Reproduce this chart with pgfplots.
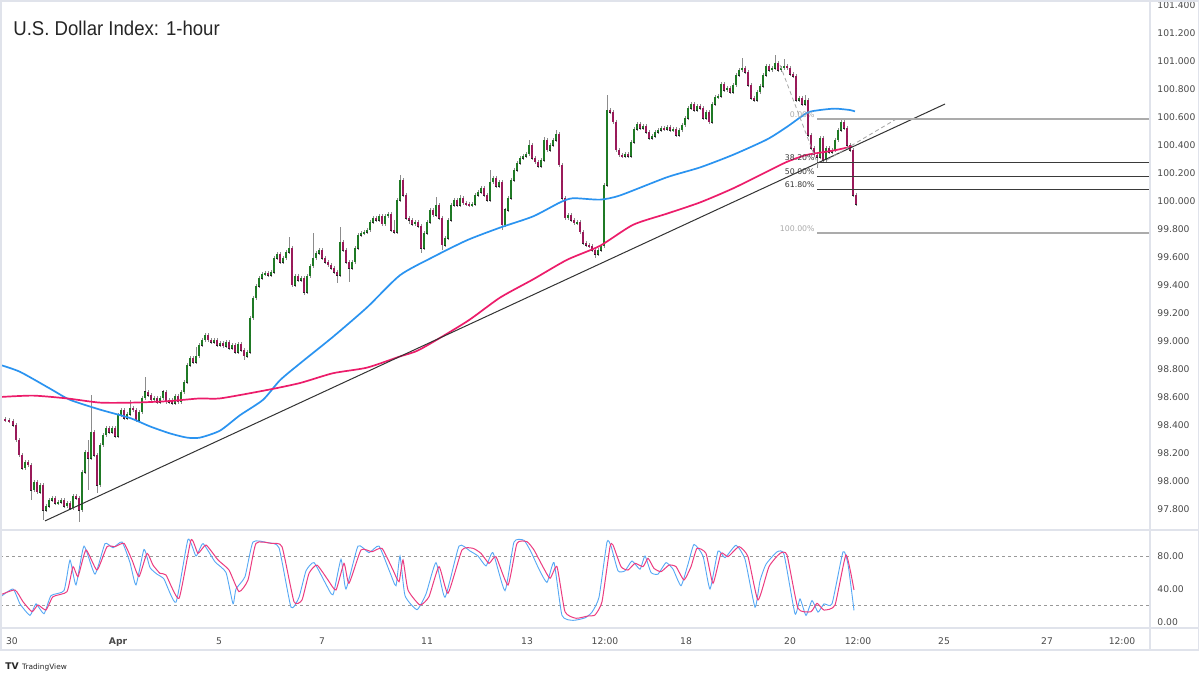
\documentclass[border=0pt]{standalone}
\usepackage{pgfplots}
\pgfplotsset{compat=1.18}
\usepackage{pgfplotstable}
\usepackage{fontspec}
\setmainfont{DejaVu Sans}
\newfontfamily\titlefont[FakeStretch=0.93]{Liberation Sans}
\newfontfamily\tickfont{DejaVu Sans}
\definecolor{upc}{HTML}{1F7A25}
\definecolor{dnc}{HTML}{9A1A5A}
\definecolor{wick}{HTML}{8C8C8C}
\definecolor{mablue}{HTML}{2A93F0}
\definecolor{mapink}{HTML}{EC1C6A}
\definecolor{stblue}{HTML}{55A8F5}
\definecolor{stpink}{HTML}{EC3C80}
\definecolor{framec}{HTML}{E0E3EB}
\definecolor{lbl}{HTML}{4A4A4A}
\definecolor{fibdark}{HTML}{3A3A3A}
\definecolor{fiblight}{HTML}{ABABAB}

\pgfplotstableread{
x o h l c
5 98.443 98.458 98.421 98.436
9 98.436 98.451 98.414 98.429
13 98.429 98.444 98.385 98.400
16 98.400 98.415 98.278 98.293
19 98.293 98.308 98.171 98.186
22 98.186 98.201 98.078 98.093
25 98.093 98.151 98.078 98.136
28 98.136 98.151 98.099 98.114
31 98.114 98.129 97.864 97.936
34 97.936 98.008 97.921 97.993
37 97.993 98.008 97.906 97.921
40 97.921 97.986 97.906 97.971
43 97.971 97.986 97.721 97.793
46 97.793 97.836 97.778 97.821
49 97.821 97.879 97.806 97.864
52 97.864 97.894 97.849 97.879
55 97.879 97.894 97.828 97.843
58 97.843 97.865 97.828 97.850
61 97.850 97.879 97.835 97.864
64 97.864 97.879 97.806 97.821
67 97.821 97.858 97.806 97.843
70 97.843 97.858 97.792 97.807
73 97.807 97.908 97.792 97.893
76 97.893 97.908 97.864 97.879
79 97.879 97.894 97.707 97.793
82 97.793 98.079 97.778 98.064
85 98.064 98.222 98.049 98.207
88 98.207 98.293 97.936 98.164
91 98.164 98.614 98.149 98.350
94 98.350 98.365 98.171 98.186
97 98.186 98.201 97.914 97.971
100 97.971 98.272 97.956 98.257
103 98.257 98.344 98.242 98.329
106 98.329 98.394 98.314 98.379
109 98.379 98.394 98.335 98.350
112 98.350 98.394 98.335 98.379
115 98.379 98.394 98.306 98.321
118 98.321 98.486 98.306 98.471
121 98.471 98.522 98.456 98.507
124 98.507 98.522 98.435 98.450
127 98.450 98.494 98.435 98.479
130 98.479 98.579 98.464 98.521
133 98.521 98.536 98.492 98.507
136 98.507 98.522 98.421 98.436
139 98.436 98.508 98.421 98.493
142 98.493 98.608 98.478 98.593
145 98.593 98.743 98.578 98.636
148 98.636 98.651 98.599 98.614
151 98.614 98.629 98.564 98.579
154 98.579 98.608 98.564 98.593
157 98.593 98.608 98.549 98.564
160 98.564 98.608 98.549 98.593
163 98.593 98.651 98.578 98.636
166 98.636 98.651 98.549 98.564
169 98.564 98.594 98.549 98.579
172 98.579 98.594 98.542 98.557
175 98.557 98.622 98.542 98.607
178 98.607 98.622 98.549 98.564
181 98.564 98.651 98.549 98.636
184 98.636 98.722 98.621 98.707
187 98.707 98.844 98.692 98.829
190 98.829 98.894 98.814 98.879
193 98.879 98.894 98.835 98.850
196 98.850 98.957 98.835 98.893
199 98.893 98.986 98.878 98.971
202 98.971 99.022 98.956 99.007
205 99.007 99.058 98.992 99.043
208 99.043 99.058 98.992 99.007
211 99.007 99.022 98.978 98.993
214 98.993 99.022 98.978 99.007
217 99.007 99.022 98.956 98.971
220 98.971 99.001 98.956 98.986
223 98.986 99.001 98.949 98.964
226 98.964 99.008 98.949 98.993
229 98.993 99.008 98.935 98.950
232 98.950 98.986 98.935 98.971
235 98.971 98.986 98.906 98.921
238 98.921 98.994 98.906 98.979
241 98.979 98.994 98.921 98.936
244 98.936 98.951 98.864 98.893
247 98.893 98.936 98.878 98.921
250 98.921 99.179 98.906 99.164
253 99.164 99.322 99.149 99.307
256 99.307 99.408 99.292 99.393
259 99.393 99.465 99.378 99.450
262 99.450 99.494 99.435 99.479
265 99.479 99.501 99.464 99.486
268 99.486 99.501 99.456 99.471
271 99.471 99.508 99.456 99.493
274 99.493 99.608 99.478 99.593
277 99.593 99.636 99.578 99.621
280 99.621 99.636 99.549 99.564
283 99.564 99.608 99.549 99.593
286 99.593 99.651 99.578 99.636
289 99.636 99.743 99.621 99.664
292 99.664 99.679 99.385 99.400
295 99.400 99.479 99.385 99.464
298 99.464 99.479 99.421 99.436
301 99.436 99.465 99.421 99.450
304 99.450 99.465 99.329 99.350
307 99.350 99.479 99.335 99.464
310 99.464 99.551 99.449 99.536
313 99.536 99.771 99.521 99.593
316 99.593 99.644 99.578 99.629
319 99.629 99.665 99.614 99.650
322 99.650 99.665 99.578 99.593
325 99.593 99.608 99.549 99.564
328 99.564 99.579 99.528 99.543
331 99.543 99.558 99.506 99.521
334 99.521 99.536 99.478 99.493
337 99.493 99.508 99.414 99.471
340 99.471 99.814 99.456 99.707
343 99.707 99.722 99.635 99.650
346 99.650 99.665 99.549 99.564
349 99.564 99.579 99.421 99.521
352 99.521 99.579 99.506 99.564
355 99.564 99.679 99.549 99.664
358 99.664 99.772 99.649 99.757
361 99.757 99.786 99.742 99.771
364 99.771 99.794 99.756 99.779
367 99.779 99.808 99.764 99.793
370 99.793 99.865 99.778 99.850
373 99.850 99.894 99.835 99.879
376 99.879 99.894 99.849 99.864
379 99.864 99.908 99.849 99.893
382 99.893 99.908 99.821 99.836
385 99.836 99.908 99.821 99.893
388 99.893 99.922 99.878 99.907
391 99.907 99.922 99.778 99.793
394 99.793 99.864 99.764 99.779
397 99.779 100.022 99.764 100.007
400 100.007 100.186 99.992 100.150
403 100.150 100.165 100.028 100.043
406 100.043 100.058 99.864 99.879
409 99.879 99.894 99.836 99.864
412 99.864 99.879 99.821 99.836
415 99.836 99.865 99.821 99.850
418 99.850 99.865 99.806 99.821
421 99.821 99.836 99.629 99.664
424 99.664 99.786 99.649 99.771
427 99.771 99.865 99.756 99.850
430 99.850 99.951 99.835 99.936
433 99.936 99.951 99.885 99.900
436 99.900 100.029 99.885 99.971
439 99.971 99.986 99.864 99.879
442 99.879 99.894 99.650 99.686
445 99.686 99.751 99.671 99.736
448 99.736 99.879 99.721 99.864
451 99.864 99.986 99.849 99.971
454 99.971 100.022 99.956 100.007
457 100.007 100.022 99.956 99.971
460 99.971 100.043 99.956 100.021
463 100.021 100.036 99.971 99.986
466 99.986 100.001 99.964 99.979
469 99.979 99.994 99.956 99.971
472 99.971 99.994 99.956 99.979
475 99.979 100.058 99.964 100.043
478 100.043 100.079 100.028 100.064
481 100.064 100.108 100.049 100.093
484 100.093 100.108 100.028 100.043
487 100.043 100.058 99.992 100.007
490 100.007 100.221 99.992 100.136
493 100.136 100.179 100.121 100.164
496 100.164 100.179 100.092 100.107
499 100.107 100.151 100.092 100.136
502 100.136 100.151 99.793 99.829
505 99.829 99.951 99.814 99.936
508 99.936 100.036 99.921 100.021
511 100.021 100.165 100.006 100.150
514 100.150 100.236 100.135 100.221
517 100.221 100.286 100.206 100.271
520 100.271 100.322 100.256 100.307
523 100.307 100.336 100.292 100.321
526 100.321 100.351 100.306 100.336
529 100.336 100.436 100.321 100.400
532 100.400 100.415 100.292 100.307
535 100.307 100.322 100.264 100.279
538 100.279 100.294 100.235 100.250
541 100.250 100.308 100.235 100.293
544 100.293 100.457 100.278 100.436
547 100.436 100.451 100.349 100.364
550 100.364 100.415 100.349 100.400
553 100.400 100.451 100.385 100.436
556 100.436 100.507 100.421 100.479
559 100.479 100.494 100.242 100.257
562 100.257 100.272 100.006 100.021
565 100.021 100.036 99.864 99.879
568 99.879 99.915 99.864 99.900
571 99.900 99.915 99.849 99.864
574 99.864 99.879 99.828 99.843
577 99.843 99.865 99.828 99.850
580 99.850 99.865 99.764 99.779
583 99.779 99.794 99.685 99.700
586 99.700 99.715 99.671 99.686
589 99.686 99.701 99.664 99.679
592 99.679 99.694 99.635 99.650
595 99.650 99.665 99.593 99.621
598 99.621 99.665 99.606 99.650
601 99.650 99.694 99.635 99.679
604 99.679 100.129 99.664 100.114
607 100.114 100.757 100.099 100.650
610 100.650 100.665 100.621 100.636
613 100.636 100.651 100.549 100.564
616 100.564 100.579 100.349 100.364
619 100.364 100.379 100.314 100.329
622 100.329 100.344 100.306 100.321
625 100.321 100.351 100.306 100.336
628 100.336 100.351 100.306 100.321
631 100.321 100.436 100.306 100.421
634 100.421 100.529 100.406 100.514
637 100.514 100.565 100.499 100.550
640 100.550 100.565 100.506 100.521
643 100.521 100.551 100.506 100.536
646 100.536 100.551 100.478 100.493
649 100.493 100.508 100.435 100.450
652 100.450 100.479 100.435 100.464
655 100.464 100.508 100.449 100.493
658 100.493 100.522 100.478 100.507
661 100.507 100.536 100.492 100.521
664 100.521 100.536 100.499 100.514
667 100.514 100.544 100.499 100.529
670 100.529 100.544 100.492 100.507
673 100.507 100.529 100.492 100.514
676 100.514 100.529 100.456 100.471
679 100.471 100.522 100.456 100.507
682 100.507 100.558 100.492 100.543
685 100.543 100.608 100.528 100.593
688 100.593 100.679 100.578 100.664
691 100.664 100.708 100.649 100.693
694 100.693 100.708 100.635 100.650
697 100.650 100.694 100.635 100.679
700 100.679 100.694 100.649 100.664
703 100.664 100.679 100.578 100.593
706 100.593 100.651 100.578 100.636
709 100.636 100.651 100.549 100.564
712 100.564 100.708 100.549 100.693
715 100.693 100.758 100.678 100.743
718 100.743 100.765 100.728 100.750
721 100.750 100.851 100.735 100.836
724 100.836 100.851 100.778 100.793
727 100.793 100.822 100.778 100.807
730 100.807 100.822 100.764 100.779
733 100.779 100.844 100.764 100.829
736 100.829 100.915 100.814 100.900
739 100.900 100.951 100.885 100.936
742 100.936 101.021 100.921 100.950
745 100.950 100.965 100.906 100.921
748 100.921 100.936 100.814 100.829
751 100.829 100.844 100.721 100.736
754 100.736 100.751 100.706 100.721
757 100.721 100.794 100.706 100.779
760 100.779 100.836 100.764 100.821
763 100.821 100.915 100.806 100.900
766 100.900 100.979 100.885 100.964
769 100.964 100.979 100.921 100.936
772 100.936 100.965 100.921 100.950
775 100.950 101.043 100.935 100.986
778 100.986 101.001 100.921 100.936
781 100.936 100.965 100.921 100.950
784 100.950 101.014 100.935 100.964
787 100.964 100.979 100.935 100.950
790 100.950 100.965 100.892 100.907
793 100.907 100.922 100.878 100.893
796 100.893 100.908 100.706 100.721
799 100.721 100.751 100.706 100.736
802 100.736 100.751 100.678 100.693
805 100.693 100.757 100.678 100.721
808 100.721 100.736 100.456 100.471
811 100.471 100.486 100.364 100.379
814 100.379 100.394 100.314 100.329
817 100.329 100.344 100.236 100.314
820 100.314 100.465 100.299 100.450
823 100.450 100.465 100.278 100.293
826 100.293 100.394 100.278 100.379
829 100.379 100.394 100.335 100.350
832 100.350 100.379 100.335 100.364
835 100.364 100.451 100.349 100.436
838 100.436 100.522 100.421 100.507
841 100.507 100.586 100.492 100.564
844 100.564 100.579 100.506 100.521
847 100.521 100.536 100.385 100.400
850 100.400 100.415 100.349 100.364
853 100.364 100.379 100.028 100.043
856 100.043 100.058 99.964 99.979
}\candles

\pgfplotsset{
  tickfnt/.style={font=\tickfont\fontsize{4.6pt}{5.5pt}\selectfont, text=lbl},
  candlebase/.style={only marks, mark=*, mark size=0pt, mark options={draw=none, fill=none}, forget plot},
}

\begin{document}
\begin{tikzpicture}
\useasboundingbox (0pt,0pt) rectangle (600pt,-337.5pt);
\fill[white] (0pt,0pt) rectangle (600pt,-337.5pt);

% ---------------- main price panel ----------------
\begin{axis}[
  at={(0pt,0pt)}, anchor=north west, scale only axis,
  width=575pt, height=265pt,
  xmin=0, xmax=1150, ymin=97.650, ymax=101.436,
  axis line style={draw=none}, xtick=\empty,
  ytick={97.8,98.0,98.2,98.4,98.6,98.8,99.0,99.2,99.4,99.6,99.8,100.0,100.2,100.4,100.6,100.8,101.0,101.2,101.4},
  yticklabel pos=right, major tick length=0pt,
  yticklabel style={tickfnt, anchor=west, inner sep=0pt, xshift=3.5pt},
  clip=true,
  /pgf/number format/.cd, fixed, fixed zerofill, precision=3, 1000 sep={}, assume math mode=true
]
% wicks
\addplot[candlebase,
  error bars/.cd, y dir=both, y explicit, error mark=none,
  error bar style={draw=wick, line width=0.35pt}]
  table[x=x, y expr={(\thisrow{h}+\thisrow{l})/2}, y error expr={(\thisrow{h}-\thisrow{l})/2}] {\candles};
% body outlines
\addplot[candlebase,
  error bars/.cd, y dir=both, y explicit, error mark=none,
  error bar style={draw=black!85, line width=1.3pt}]
  table[x=x, y expr={(\thisrow{o}+\thisrow{c})/2}, y error expr={max(abs(\thisrow{c}-\thisrow{o})/2,0.004)+0.003}] {\candles};
% up bodies
\addplot[candlebase,
  restrict expr to domain={\thisrow{c}-\thisrow{o}}{0:10},
  error bars/.cd, y dir=both, y explicit, error mark=none,
  error bar style={draw=upc, line width=0.75pt}]
  table[x=x, y expr={(\thisrow{o}+\thisrow{c})/2}, y error expr={max(abs(\thisrow{c}-\thisrow{o})/2,0.004)}] {\candles};
% down bodies
\addplot[candlebase,
  restrict expr to domain={\thisrow{c}-\thisrow{o}}{-10:-0.0001},
  error bars/.cd, y dir=both, y explicit, error mark=none,
  error bar style={draw=dnc, line width=0.75pt}]
  table[x=x, y expr={(\thisrow{o}+\thisrow{c})/2}, y error expr={max(abs(\thisrow{c}-\thisrow{o})/2,0.004)}] {\candles};

% 100 SMA (blue)
\addplot[mablue, line width=0.85pt, smooth, tension=0.4] coordinates {
(0,98.83) (20,98.78) (50,98.66) (70,98.58) (100,98.51) (130,98.45) (150,98.39) (170,98.34)
(187,98.31) (200,98.31) (220,98.36) (240,98.47) (263,98.58) (280,98.72) (300,98.84) (333,99.03)
(367,99.24) (400,99.47) (433,99.60) (467,99.72) (500,99.81) (533,99.89) (560,99.99) (573,100.02)
(600,100.01) (620,100.04) (667,100.17) (700,100.24) (733,100.33) (767,100.44) (787,100.53)
(807,100.63) (820,100.65) (835,100.66) (850,100.65) (855,100.64)};
% 200 SMA (pink)
\addplot[mapink, line width=0.85pt, smooth, tension=0.4] coordinates {
(0,98.60) (33,98.61) (67,98.59) (100,98.56) (133,98.56) (167,98.57) (200,98.59) (220,98.59)
(267,98.65) (300,98.70) (333,98.77) (367,98.81) (400,98.89) (420,98.94) (467,99.14) (500,99.31)
(533,99.44) (567,99.58) (600,99.68) (633,99.83) (667,99.91) (700,99.99) (733,100.09) (767,100.21)
(787,100.28) (807,100.33) (833,100.36) (852,100.39)};

% trend line
\addplot[black!80, line width=0.5pt] coordinates {(45,97.715) (945,100.693)};
% dashed helper lines
\addplot[gray!70, line width=0.4pt, dash pattern=on 2pt off 1.5pt] coordinates {(780,100.972) (818,100.257)};
\addplot[gray!70, line width=0.4pt, dash pattern=on 2pt off 1.5pt] coordinates {(827,100.293) (898,100.593)};

% fibonacci levels
\addplot[fiblight, line width=0.6pt] coordinates {(817,100.586) (1150,100.586)};
\addplot[fibdark, line width=0.5pt] coordinates {(817,100.275) (1150,100.275)};
\addplot[fibdark, line width=0.5pt] coordinates {(817,100.178) (1150,100.178)};
\addplot[fibdark, line width=0.5pt] coordinates {(817,100.082) (1150,100.082)};
\addplot[fiblight, line width=0.6pt] coordinates {(817,99.771) (1150,99.771)};
\begin{scope}[every node/.style={anchor=base east, inner sep=0pt, font=\tickfont\fontsize{3.9pt}{4.5pt}\selectfont}]
\node[text=fiblight] at (axis cs:815,100.600) {0.00\%};
\node[text=fibdark] at (axis cs:815,100.289) {38.20\%};
\node[text=fibdark] at (axis cs:815,100.192) {50.00\%};
\node[text=fibdark] at (axis cs:815,100.096) {61.80\%};
\node[text=fiblight] at (axis cs:815,99.785) {100.00\%};
\end{scope}
\end{axis}

% ---------------- stochastic panel ----------------
\begin{axis}[
  at={(0pt,-266pt)}, anchor=north west, scale only axis,
  width=575pt, height=48pt,
  xmin=0, xmax=1150, ymin=-7.27, ymax=109.09,
  axis line style={draw=none},
  ytick={0,40,80}, yticklabel pos=right, major tick length=0pt,
  yticklabel style={tickfnt, anchor=west, inner sep=0pt, xshift=3.5pt},
  xtick={12,118,219,322,427,527,605,686,790,858,944,1047,1122},
  xticklabels={30,\textbf{Apr},5,7,11,13,12:00,18,20,12:00,25,27,12:00},
  xticklabel style={tickfnt, anchor=north, inner sep=0pt, yshift=-4.5pt},
  clip=true,
  /pgf/number format/.cd, fixed, fixed zerofill, precision=2, 1000 sep={}, assume math mode=true
]
\addplot[gray!80, line width=0.4pt, dash pattern=on 1.5pt off 1.5pt] coordinates {(0,80) (1150,80)};
\addplot[gray!80, line width=0.4pt, dash pattern=on 1.5pt off 1.5pt] coordinates {(0,20) (1150,20)};
% %K (blue)
\addplot[stblue, line width=0.45pt, smooth, tension=0.3] coordinates {
(0,30) (13,40) (20,22) (30,8) (36,22) (44,10) (51,32) (64,38) (70,75) (76,45) (84,92) (95,58)
(105,95) (113,90) (122,97) (130,72) (136,45) (144,88) (150,66) (157,58) (164,52) (176,24)
(188,100) (196,80) (203,95) (215,73) (226,60) (233,22) (236,40) (245,55) (253,97) (268,96)
(279,90) (291,18) (299,30) (306,62) (314,72) (325,48) (333,33) (341,76) (346,40) (358,92)
(369,84) (379,92) (390,60) (396,44) (400,80) (405,32) (417,15) (426,34) (436,72) (445,30)
(459,92) (470,86) (478,80) (486,68) (493,84) (505,38) (514,97) (524,99) (531,85) (539,64)
(547,48) (554,72) (562,8) (573,2) (585,5) (592,12) (599,30) (607,97) (611,92) (618,62)
(625,62) (632,74) (640,64) (645,80) (651,60) (658,58) (666,72) (673,64) (681,44) (688,70)
(694,94) (703,80) (710,40) (718,86) (725,78) (736,93) (745,76) (755,18) (760,50) (766,70)
(777,85) (784,82) (795,10) (800,28) (806,8) (812,26) (818,12) (824,22) (832,22) (843,85)
(848,70) (854,14)};
% %D (pink)
\addplot[stpink, line width=0.5pt, smooth, tension=0.3] coordinates {
(0,32.7) (15,38.8) (23,24.6) (32,12.5) (38,20.6) (46,14.5) (53,30.7) (67,36.8) (73,67.1)
(78,55) (86,87.3) (97,63) (107,91.3) (115,91.3) (124,95.4) (132,75.2) (139,55) (147,83.2)
(153,69) (160,59) (166,57) (179,28.7) (191,99.4) (198,83.2) (206,93.3) (218,75.2) (229,63)
(239,36.8) (248,50.9) (256,95.4) (271,95.4) (282,91.3) (294,24.6) (302,26.7) (309,59) (317,69)
(328,50.9) (336,38.8) (344,71.1) (349,46.9) (361,87.3) (372,85.2) (382,89.3) (393,63) (399,48.8)
(403,75.2) (408,38.8) (420,20.6) (429,30.7) (439,67.1) (448,34.8) (462,87.3) (473,89.3)
(481,83.2) (489,71.1) (496,79.2) (508,44.8) (517,95.4) (527,97.3) (534,87.3) (542,69) (550,53)
(557,67.1) (565,12.5) (576,4.5) (588,7.3) (595,8.5) (602,24.6) (610,91.3) (613,93.3) (621,67.1)
(628,63) (635,71.1) (643,67.1) (648,77.2) (654,65) (661,61) (669,69) (676,67.1) (684,50.9)
(691,67.1) (697,89.3) (706,83.2) (713,46.9) (721,83.2) (728,79.2) (739,91.3) (748,79.2)
(758,26.7) (769,67.1) (780,83.2) (787,81.2) (798,16.6) (811,12.5) (817,22.7) (824,14.5)
(835,20.6) (846,81.2) (854,38.8)};
\end{axis}

% ---------------- frames, title, logo ----------------
\draw[framec, line width=0.6pt] (0.5pt,-0.5pt) rectangle (599.3pt,-325pt);
\draw[framec, line width=0.6pt] (575pt,-0.5pt) -- (575pt,-325pt);
\draw[framec, line width=0.6pt] (0.5pt,-265pt) -- (599.3pt,-265pt);
\draw[framec, line width=0.6pt] (0.5pt,-314pt) -- (599.3pt,-314pt);

\node[anchor=base west, inner sep=0pt, text=black!85,
  font=\titlefont\fontsize{10pt}{12pt}\selectfont] at (6.5pt,-17.5pt) {U.S. Dollar Index: 1-hour};

\node[anchor=west, inner sep=0pt, text=black!85] at (2.5pt,-333.5pt)
  {{\fontsize{4.6pt}{5pt}\selectfont\bfseries TV}\,{\tickfont\fontsize{3.7pt}{4.5pt}\selectfont TradingView}};
\end{tikzpicture}
\end{document}
